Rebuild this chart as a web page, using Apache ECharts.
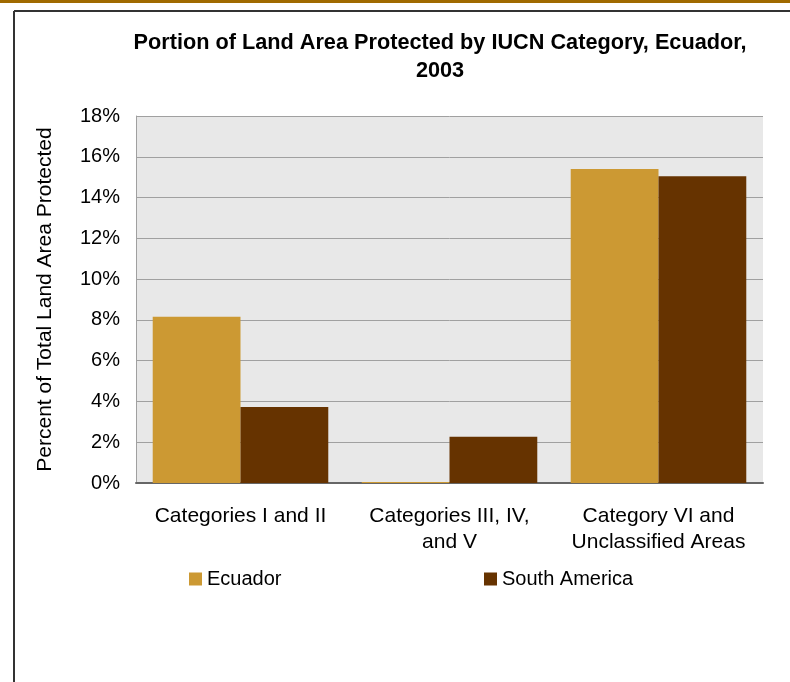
<!DOCTYPE html>
<html>
  <meta charset="UTF-8">
  <title>Portion of Land Area Protected by IUCN Category, Ecuador, 2003</title>
  <style type="text/css">
    html,body{margin:0px;height:100%;width:100%;background:#fff}
    .container{width:790px;height:682px}
  </style>
  <script type="text/javascript" src="https://cdn.jsdelivr.net/npm/echarts@6/dist/echarts.min.js"></script>
  <body>
    <div id="chart" class="container"></div>

    <script>
      var categories = ['Categories I and II', 'Categories III, IV,\nand V', 'Category VI and\nUnclassified Areas'];
      var ecuador = [8.15, 0.05, 15.4];
      var southAmerica = [3.73, 2.27, 15.05];
      var yTicks = { min: 0, max: 18, interval: 2 };

      var font = 'Liberation Sans, Arial, sans-serif';
      var myChart = echarts.init(document.getElementById('chart'));
      var option = {
        animation: false,
        textStyle: { fontFamily: font },
        title: {
          text: 'Portion of Land Area Protected by IUCN Category, Ecuador,\n2003',
          left: 440,
          top: 29,
          padding: 0,
          textAlign: 'center',
          textStyle: { fontSize: 21.7, fontWeight: 'bold', color: '#000', lineHeight: 28, fontFamily: font }
        },
        graphic: [
          { type: 'rect', shape: { x: 0, y: 0, width: 790, height: 3 }, style: { fill: '#a06a00' } },
          { type: 'line', shape: { x1: 14, y1: 11, x2: 790, y2: 11 }, style: { stroke: '#333', lineWidth: 2 } },
          { type: 'line', shape: { x1: 14, y1: 11, x2: 14, y2: 682 }, style: { stroke: '#333', lineWidth: 2 } }
        ],
        legend: [
          {
            data: ['Ecuador'], left: 189, top: 569, padding: 0, icon: 'rect', itemWidth: 13, itemHeight: 13, itemGap: 5,
            textStyle: { fontSize: 20, color: '#000', fontFamily: font }
          },
          {
            data: ['South America'], left: 484, top: 569, padding: 0, icon: 'rect', itemWidth: 13, itemHeight: 13,
            textStyle: { fontSize: 20, color: '#000', fontFamily: font }
          }
        ],
        grid: {
          left: 136, right: 27, top: 116, bottom: 199,
          show: true, backgroundColor: '#e8e8e8', borderWidth: 0
        },
        xAxis: {
          type: 'category',
          data: categories,
          axisLine: { lineStyle: { color: '#666', width: 2 } },
          axisTick: { show: false },
          axisLabel: { color: '#000', fontSize: 21, lineHeight: 26, margin: 20, interval: 0, fontFamily: font }
        },
        yAxis: {
          type: 'value',
          min: yTicks.min, max: yTicks.max, interval: yTicks.interval,
          name: 'Percent of Total Land Area Protected',
          nameLocation: 'middle',
          nameGap: 80,
          nameTextStyle: { fontSize: 21, color: '#000', fontFamily: font },
          axisLine: { show: true, lineStyle: { color: '#a0a0a0', width: 1 } },
          axisTick: { show: false },
          axisLabel: { formatter: '{value}%', color: '#000', fontSize: 20, margin: 16, fontFamily: font },
          splitLine: { lineStyle: { color: '#a0a0a0', width: 1 } }
        },
        series: [
          {
            name: 'Ecuador', type: 'bar', data: ecuador,
            barGap: '0%', barCategoryGap: '16%',
            itemStyle: { color: '#cc9933' }
          },
          {
            name: 'South America', type: 'bar', data: southAmerica,
            barGap: '0%', barCategoryGap: '16%',
            itemStyle: { color: '#663300' }
          }
        ]
      };
      myChart.setOption(option);
    </script>
  </body>
</html>
